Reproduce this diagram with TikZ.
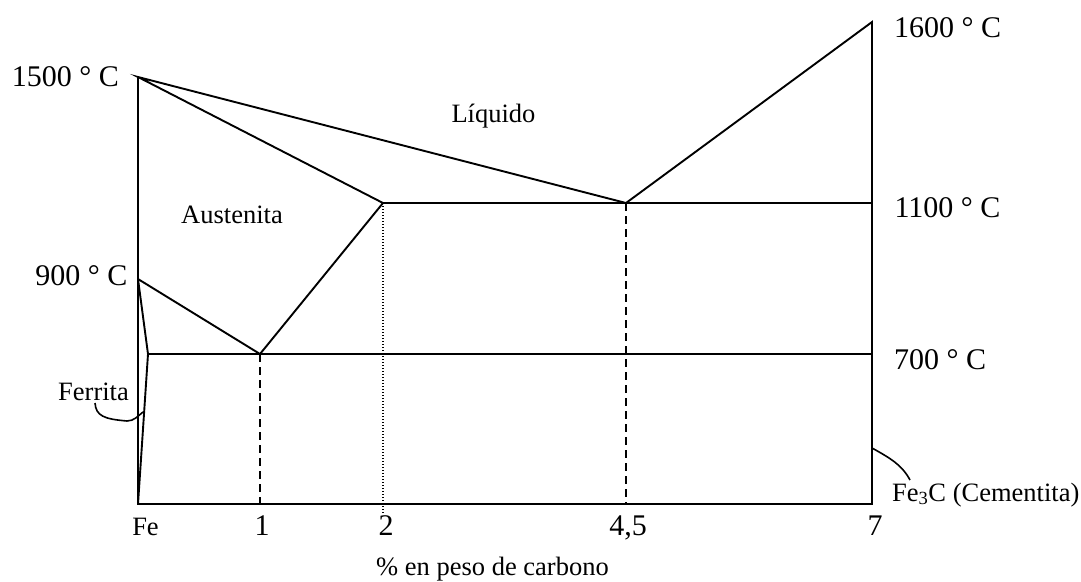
\documentclass[tikz,border=0pt]{standalone}
\usepackage{fontspec}
\setmainfont{Liberation Serif}
\usetikzlibrary{positioning}

\tikzset{
    biglabel/.style={font=\fontsize{30}{36}\selectfont, inner sep=0pt, anchor=base},
    smalllabel/.style={font=\fontsize{26.5}{31}\selectfont, inner sep=0pt, anchor=base},
    phaseline/.style={line width=1.9pt, line join=miter},
    dashline/.style={line width=1.6pt, dash pattern=on 8pt off 5pt},
    dotline/.style={line width=1.2pt, dash pattern=on 1pt off 2pt},
    curl/.style={line width=1.6pt}
}

\begin{document}
\begin{tikzpicture}[x=1pt, y=-1pt]
    \useasboundingbox (0,0) rectangle (1081,581);

    % puntos del diagrama
    \coordinate (t1500) at (138,77);
    \coordinate (t900) at (138,279);
    \coordinate (fe) at (138,504);
    \coordinate (cem) at (872,504);
    \coordinate (t1600) at (872,22);
    \coordinate (ferr) at (148,354);
    \coordinate (eutd) at (260,354);
    \coordinate (aus) at (383,203);
    \coordinate (eut) at (626,203);
    \coordinate (dotend) at (383,513);

    % contorno y lineas de fase
    \draw[phaseline](t1500)--(fe)--(cem)--(t1600)--(eut)--(t1500)--(aus)--(eutd)--(t900);
    \draw[phaseline](aus)--(cem |- aus);
    \draw[phaseline](ferr)--(cem |- ferr);
    \draw[phaseline](t900)--(ferr)--(fe);

    % lineas de referencia
    \draw[dashline](eutd)--(eutd |- fe);
    \draw[dashline](eut)--(eut |- fe);
    \draw[dotline](aus)--(dotend);

    % llaves
    \coordinate (ferrtxt) at (95,403);
    \coordinate (ferrtip) at (143,412);
    \draw[curl](ferrtxt) .. controls (96,416) and (104,419) .. (127,421) .. controls (134,421) and (138,416) .. (ferrtip);
    \coordinate (cemtip) at (872,448);
    \coordinate (cemtxt) at (910,480);
    \draw[curl](cemtip) .. controls (890,458) and (902,465) .. (cemtxt);

    % temperaturas
    \node[biglabel] (l1500) at (65.5,86) {1500 ° C};
    \node[biglabel] (l900) at (81.5,285) {900 ° C};
    \node[biglabel] (l1600) at (947.5,37) {1600 ° C};
    \node[biglabel] (l1100) at (947.5,217) {1100 ° C};
    \node[biglabel] (l700) at (940,369) {700 ° C};

    % fases
    \node[smalllabel] (liq) at (493.5,122) {Líquido};
    \node[smalllabel] (aust) at (232,223) {Austenita};
    \node[smalllabel] (ferrita) at (93.5,400) {Ferrita};
    \node[smalllabel, anchor=base west] (cementita) at (892,501) {Fe\textsubscript{3}C (Cementita)};

    % eje de composicion
    \node[smalllabel] (xfe) at (145.5,535) {Fe};
    \node[biglabel] (x1) at (262,535) {1};
    \node[biglabel] (x2) at (386,535) {2};
    \node[biglabel] (x45) at (628,535) {4,5};
    \node[biglabel] (x7) at (875,535) {7};
    \node[smalllabel] (xtitle) at (492.5,575) {\% en peso de carbono};
\end{tikzpicture}
\end{document}
